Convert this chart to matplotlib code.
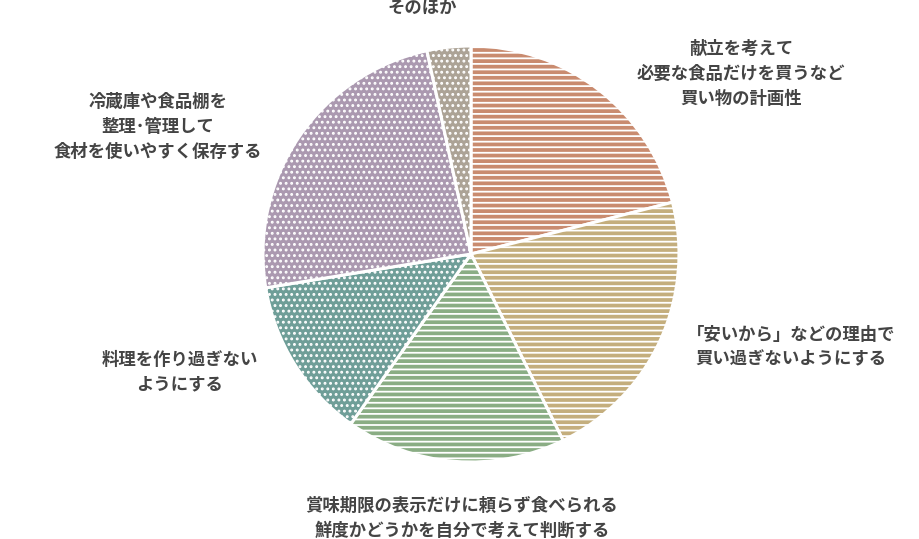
#pie chart of food-waste habits, recreated with hatched wedges

import matplotlib.pyplot as plt


#data
labels = [
    "献立を考えて\n必要な食品だけを買うなど\n買い物の計画性",
    "「安いから」などの理由で\n買い過ぎないようにする",
    "賞味期限の表示だけに頼らず食べられる\n鮮度かどうかを自分で考えて判断する",
    "料理を作り過ぎない\nようにする",
    "冷蔵庫や食品棚を\n整理･管理して\n食材を使いやすく保存する",
    "そのほか",
]
values = [21.0, 21.7, 17.1, 12.6, 24.2, 3.4]

#styles
colors = ["#c98b6f", "#c4ae7d", "#8aad84", "#6f9e98", "#ab99b0", "#aca396"]
hatches = ["---", "---", "---", "...", "...", "..."]

#label centres in pixels (x from left, y from top)
labelPos = [(741, 74), (791, 347), (462, 518), (180, 372), (158, 127), (422, 8)]

W, H = 920, 539
cx, cy, r = 471, 254, 208


def createGraph():

    plt.rcParams["hatch.linewidth"] = 1.3
    plt.rcParams["font.family"] = ["Noto Sans CJK JP", "DejaVu Sans"]

    fig = plt.figure(figsize=(W / 100, H / 100), dpi=100)
    ax = fig.add_axes([(cx - r) / W, (H - cy - r) / H, 2 * r / W, 2 * r / H])

    wedges, _ = ax.pie(values, colors=colors, startangle=90, counterclock=False,
                       radius=1, wedgeprops=dict(edgecolor="white", linewidth=2.2))
    for w, h in zip(wedges, hatches):
        w.set_hatch(h)

    ax.set_xlim(-1, 1)
    ax.set_ylim(-1, 1)
    ax.axis("off")

    #labels
    for t, (x, y) in zip(labels, labelPos):
        fig.text(x / W, 1 - y / H, t, ha="center", va="center", ma="center",
                 fontsize=12.5, fontweight="bold", color="#444444", linespacing=1.5)

    fig.savefig("out.png", dpi=100)


createGraph()
